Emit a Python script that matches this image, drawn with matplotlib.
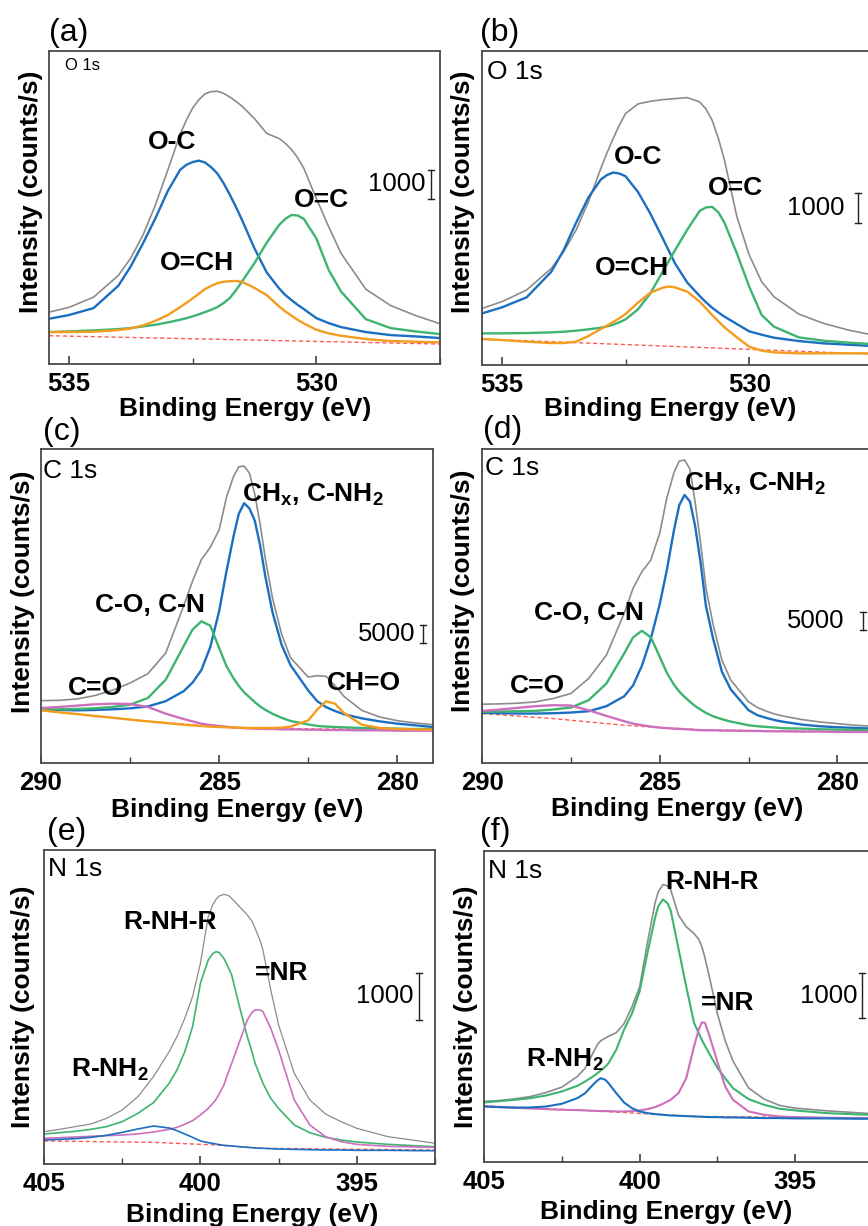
import matplotlib.pyplot as plt
from matplotlib.ticker import MultipleLocator

plt.rcParams['font.family'] = ['Liberation Sans', 'DejaVu Sans']
plt.rcParams['font.weight'] = 'bold'
plt.rcParams['axes.labelweight'] = 'bold'
plt.rcParams['mathtext.fontset'] = 'custom'
plt.rcParams['mathtext.rm'] = 'Liberation Sans'
plt.rcParams['mathtext.bf'] = 'Liberation Sans:bold'

BLUE = '#1b6fc0'
GREEN = '#3db46f'
ORANGE = '#f39c1e'
PURPLE = '#cc6fbd'
GRAY = '#8c8c8c'
RED = '#ff5a4f'

# ---- (a) O 1s ----
be_a = [535.4, 535.0, 534.5, 534.0, 533.75, 533.5, 533.25, 533.0, 532.75, 532.625, 532.5, 532.375, 532.25, 532.125,
        532.0, 531.875, 531.75, 531.625, 531.5, 531.25, 531.0, 530.75, 530.625, 530.5, 530.375, 530.25, 530.0,
        529.75, 529.5, 529.0, 528.5, 528.0, 527.5]
env_a = [1835, 1999, 2364, 3128, 3740, 4563, 5621, 6856, 8126, 8620, 9043, 9340, 9549, 9630,
         9643, 9570, 9443, 9290, 9114, 8679, 8150, 7973, 7800, 7585, 7290, 6915, 5856,
         4857, 3916, 2646, 2070, 1717, 1423]
oc_a = [1599, 1729, 1976, 2764, 3446, 4269, 5151, 6115, 6868, 7040, 7138, 7190, 7127, 6960,
        6738, 6400, 5998, 5560, 5092, 4092, 3234, 2670, 2440, 2258, 2090, 1940, 1623,
        1446, 1305, 1129, 1023, 976, 917]
odc_a = [1129, 1152, 1188, 1235, 1270, 1329, 1388, 1470, 1564, 1620, 1682, 1755, 1835, 1915,
         2011, 2150, 2328, 2600, 2916, 3563, 4292, 4916, 5130, 5268, 5250, 5127, 4445,
         3328, 2564, 1588, 1270, 1152, 1058]
och_a = [1129, 1129, 1141, 1200, 1258, 1364, 1529, 1729, 2011, 2160, 2317, 2480, 2646, 2760,
         2858, 2905, 2928, 2935, 2905, 2693, 2434, 2034, 1860, 1705, 1560, 1435, 1211,
         1082, 1000, 882, 811, 788, 764]
base_be_a = [535.4, 527.5]
base_a = [1000, 706]

# ---- (b) O 1s ----
be_b = [535.4, 535.0, 534.5, 534.0, 533.75, 533.5, 533.25, 533.0, 532.875, 532.75, 532.625, 532.5, 532.25, 532.0,
        531.75, 531.625, 531.5, 531.25, 531.0, 530.875, 530.75, 530.625, 530.5, 530.25, 530.0, 529.75, 529.5,
        529.0, 528.5, 528.0, 527.5]
env_b = [1868, 2088, 2473, 3187, 3737, 4451, 5385, 6484, 7000, 7473, 7920, 8297, 8616, 8704,
         8759, 8775, 8792, 8825, 8682, 8450, 8078, 7480, 6759, 4891, 3627, 2748, 2253,
         1681, 1374, 1154, 989]
oc_b = [1703, 1901, 2231, 3077, 3792, 4693, 5528, 6121, 6270, 6352, 6320, 6231, 5715, 5000,
        4187, 3770, 3352, 2715, 2275, 2070, 1890, 1735, 1594, 1352, 1110, 1000, 901,
        791, 714, 670, 626]
odc_b = [1044, 1044, 1055, 1077, 1099, 1132, 1176, 1231, 1275, 1330, 1410, 1506, 1835, 2363,
         3077, 3430, 3792, 4473, 5088, 5200, 5220, 5040, 4693, 3682, 2583, 1649, 1264,
         912, 802, 736, 692]
och_b = [857, 824, 769, 725, 725, 769, 956, 1187, 1300, 1418, 1545, 1681, 2055, 2385,
         2550, 2590, 2561, 2418, 2088, 1870, 1649, 1445, 1242, 912, 604, 473, 418,
         385, 385, 385, 385]
base_be_b = [535.4, 527.5]
base_b = [857, 360]

# ---- (c) C 1s ----
be_c = [290, 289.5, 289, 288.5, 288, 287.5, 287, 286.5, 286, 285.75, 285.5, 285.25, 285, 284.8, 284.6, 284.45, 284.3,
        284.15, 284.0, 283.85, 283.7, 283.5, 283.25, 283, 282.5, 282.25, 282, 281.75, 281.5, 281, 280.5, 280, 279.5, 279]
env_c = [17634, 17728, 18106, 19049, 20557, 22632, 25272, 31119, 44321, 51394, 57523, 61000, 66000, 75000, 81000, 83800, 84000,
         82000, 76000, 67500, 57500, 46500, 36500, 29800, 24300, 24700, 24518, 21878, 18860, 14899, 13013, 11976, 11316, 10845]
chx_c = [15088, 14994, 14899, 14994, 15182, 15465, 16000, 17500, 20300, 22700, 26300, 32800, 43000, 54000, 64000, 70500, 73500,
         72000, 68500, 61500, 52500, 42500, 33500, 27700, 20500, 17500, 15800, 14700, 13800, 12636, 11788, 11127, 10656, 10184]
con_c = [15088, 15182, 15277, 15465, 15842, 16503, 18389, 23575, 33005, 37720, 40078, 38852, 32500, 27500, 24000, 21800, 20000,
         18600, 17200, 16000, 15000, 13900, 12800, 11900, 10900, 10500, 10300, 10184, 10090, 9902, 9807, 9713, 9619, 9619]
cdo_c = [15560, 15842, 16220, 16597, 16785, 16691, 15842, 13956, 12448, 11788, 11127, 10750, 10467, 10250, 10050, 9950, 9850,
         9780, 9713, 9680, 9640, 9619, 9524, 9524, 9430, 9430, 9336, 9336, 9336, 9241, 9241, 9147, 9147, 9147]
cho_c = [14899, 14334, 13862, 13296, 12825, 12259, 11788, 11316, 10845, 10656, 10467, 10279, 10184, 10100, 10040, 9996, 9950,
         9902, 9902, 9902, 9902, 9902, 9996, 10279, 12070, 15088, 17446, 16785, 14145, 10845, 9902, 9619, 9524, 9430]
base_be_c = [290, 287, 285, 284, 282, 279]
base_c = [14899, 11800, 10200, 9900, 9600, 9430]

# ---- (d) C 1s ----
be_d = be_c
env_d = [16298, 16390, 16575, 16946, 17872, 19261, 23428, 29910, 41485, 48430, 53060, 56301, 63709, 73500, 80500, 83700, 84000,
         81500, 72000, 61000, 48500, 38500, 28500, 22965, 16946, 15372, 14353, 13520, 12964, 12038, 11390, 10927, 10464, 10186]
chx_d = [13890, 13797, 13705, 13705, 13797, 13983, 14353, 15742, 18500, 21500, 27000, 34500, 44000, 53500, 64500, 71500, 74300,
         72500, 65500, 55500, 43500, 34540, 25280, 20372, 14631, 13242, 12501, 11853, 11390, 10649, 10186, 9908, 9723, 9538]
con_d = [14168, 14260, 14353, 14446, 14816, 15372, 17409, 22039, 30373, 34818, 36670, 34818, 29447, 25000, 21700, 19800, 18300,
         17000, 15742, 14800, 13900, 12964, 12131, 11482, 10464, 10186, 10001, 9816, 9630, 9538, 9353, 9260, 9167, 9075]
cdo_d = [14446, 14816, 15279, 15742, 16020, 15927, 14631, 13057, 11575, 10927, 10464, 10093, 9816, 9670, 9520, 9445, 9380,
         9300, 9167, 9100, 9075, 9075, 8982, 8982, 8890, 8890, 8797, 8797, 8797, 8704, 8704, 8612, 8612, 8612]
base_be_d = [290, 288, 286, 284, 282, 279]
base_d = [13705, 12316, 10464, 9260, 8890, 8704]

# ---- (e) N 1s ----
be_e = [405, 404.5, 404, 403.5, 403, 402.5, 402, 401.5, 401, 400.75, 400.5, 400.25, 400, 399.75, 399.6, 399.5, 399.4, 399.25,
        399.1, 399, 398.75, 398.5, 398.35, 398.25, 398.1, 398, 397.75, 397.5, 397, 396.5, 396, 395.5, 395, 394, 393, 392.5]
env_e = [693, 743, 800, 857, 978, 1157, 1442, 1871, 2406, 2727, 3120, 3584, 4298, 5298, 5560, 5669, 5740, 5776,
         5750, 5691, 5512, 5334, 5200, 5048, 4800, 4584, 3727, 2977, 1942, 1371, 1071, 907, 764, 585, 493, 443]
nhr_e = [643, 671, 700, 743, 800, 907, 1085, 1314, 1728, 2013, 2406, 2942, 3870, 4370, 4510, 4548, 4530, 4405,
         4200, 4048, 3370, 2727, 2400, 2156, 1900, 1728, 1407, 1192, 835, 671, 571, 514, 471, 421, 386, 371]
nr_e = [550, 564, 578, 593, 607, 621, 643, 685, 743, 785, 850, 928, 1050, 1192, 1300, 1385, 1500, 1692,
        1980, 2156, 2620, 3084, 3250, 3299, 3300, 3263, 2906, 2442, 1371, 835, 585, 478, 421, 378, 364, 357]
nh2_e = [514, 528, 543, 571, 614, 678, 750, 814, 771, 714, 643, 571, 493, 457, 440, 428, 415, 400,
         392, 386, 371, 357, 350, 343, 339, 336, 328, 321, 314, 307, 300, 300, 293, 293, 286, 286]
base_be_e = [405, 401.5, 399.5, 398, 392.5]
base_e = [493, 464, 407, 336, 300]

# ---- (f) N 1s ----
be_f = [405, 404.5, 404, 403.5, 403, 402.5, 402, 401.75, 401.5, 401.35, 401.25, 401.1, 401, 400.75, 400.5, 400.25, 400,
        399.75, 399.5, 399.4, 399.25, 399.1, 399, 398.75, 398.5, 398.25, 398.1, 398, 397.9, 397.75, 397.5, 397.25, 397,
        396.5, 396, 395.5, 395, 394, 393, 392.5]
env_f = [1349, 1371, 1408, 1460, 1549, 1667, 1904, 2090, 2423, 2620, 2700, 2760, 2800, 2880, 3080, 3450, 3900,
         4880, 5780, 6020, 6180, 6150, 6060, 5500, 5240, 5090, 4960, 4800, 4550, 4100, 3300, 2700, 2250,
         1650, 1400, 1260, 1200, 1141, 1097, 1074]
nhr_f = [1326, 1356, 1386, 1423, 1482, 1571, 1697, 1793, 1904, 1980, 2038, 2125, 2200, 2500, 2950, 3300, 3800,
         4650, 5450, 5700, 5850, 5760, 5600, 4750, 3900, 3100, 2870, 2720, 2590, 2400, 2100, 1867, 1645,
         1400, 1275, 1186, 1149, 1089, 1060, 1052]
nr_f = [1237, 1223, 1208, 1193, 1178, 1163, 1156, 1149, 1141, 1137, 1134, 1134, 1134, 1126, 1126, 1134, 1149,
        1178, 1223, 1250, 1297, 1350, 1386, 1534, 1870, 2580, 2950, 3110, 3100, 2800, 2230, 1682, 1386,
        1126, 1052, 1015, 1000, 986, 978, 978]
nh2_f = [1237, 1223, 1210, 1215, 1237, 1297, 1423, 1534, 1719, 1820, 1867, 1830, 1756, 1534, 1326, 1200, 1126,
         1089, 1067, 1060, 1052, 1042, 1037, 1030, 1023, 1015, 1011, 1008, 1004, 1000, 1000, 993, 993,
         986, 978, 978, 971, 971, 963, 963]
base_be_f = [405, 401.5, 398.25, 392.5]
base_f = [1252, 1141, 1015, 978]

W, H = 868, 1226
fig = plt.figure(figsize=(W / 100, H / 100), dpi=100)


def new_axes(left, top, right, bottom):
    return fig.add_axes([left / W, 1 - bottom / H, (right - left) / W, (bottom - top) / H])


def style(ax, xlim, ylim, ylab_xy, xlab_xy):
    ax.set_xlim(*xlim)
    ax.set_ylim(*ylim)
    ax.xaxis.set_major_locator(MultipleLocator(5))
    ax.xaxis.set_minor_locator(MultipleLocator(2.5))
    ax.set_yticks([])
    ax.tick_params(axis='x', which='both', direction='in', labelsize=18.5, pad=6, color='#404040')
    ax.tick_params(axis='x', which='major', length=6, width=1.2)
    ax.tick_params(axis='x', which='minor', length=4, width=1.0)
    for s in ax.spines.values():
        s.set_color('#4a4a4a')
        s.set_linewidth(1.3)
    ax.set_xlabel('Binding Energy (eV)', fontsize=19, fontweight='bold')
    ax.set_ylabel('Intensity (counts/s)', fontsize=19, fontweight='bold')
    ax.yaxis.set_label_coords(*ylab_xy)
    ax.xaxis.set_label_coords(*xlab_xy)


def scale_bar(ax, xfrac, ymid, length, label, text_x):
    tr = ax.get_yaxis_transform()
    y0, y1 = ymid - length / 2, ymid + length / 2
    ax.plot([xfrac, xfrac], [y0, y1], color='#222222', lw=1.0, transform=tr, clip_on=False)
    for yy in (y0, y1):
        ax.plot([xfrac - 0.008, xfrac + 0.008], [yy, yy], color='#222222', lw=1.0, transform=tr, clip_on=False)
    ax.text(text_x, ymid, label, transform=tr, ha='right', va='center', fontsize=18.5, fontweight='normal')


def note(ax, x, y, s, size=19, weight='bold', ha='center'):
    ax.text(x, y, s, transform=ax.transAxes, ha=ha, va='center', fontsize=size, fontweight=weight)


def tag(ax, x, y, s):
    ax.text(x, y, s, transform=ax.transAxes, ha='left', va='bottom', fontsize=23, fontweight='normal')


dash = dict(ls=(0, (3, 2)), color=RED, lw=1.0)

# (a)
ax = new_axes(49, 51, 440, 364)
ax.plot(base_be_a, base_a, **dash)
ax.plot(be_a, env_a, color=GRAY, lw=1.2)
ax.plot(be_a, oc_a, color=BLUE, lw=1.7)
ax.plot(be_a, odc_a, color=GREEN, lw=1.7)
ax.plot(be_a, och_a, color=ORANGE, lw=1.7)
style(ax, (535.4, 527.5), (0, 11066), (-0.015, 0.551), (0.501, -0.105))
note(ax, 0.315, 0.709, 'O-C')
note(ax, 0.698, 0.524, 'O=C')
note(ax, 0.378, 0.323, 'O=CH')
note(ax, 0.041, 0.955, 'O 1s', size=12, weight='normal', ha='left')
scale_bar(ax, 0.977, 6350, 1000, '1000', 0.962)
tag(ax, 0.0, 1.01, '(a)')

# (b)
ax = new_axes(482, 51, 873, 365)
ax.plot(base_be_b, base_b, **dash)
ax.plot(be_b, env_b, color=GRAY, lw=1.2)
ax.plot(be_b, oc_b, color=BLUE, lw=1.7)
ax.plot(be_b, odc_b, color=GREEN, lw=1.7)
ax.plot(be_b, och_b, color=ORANGE, lw=1.7)
style(ax, (535.4, 527.5), (0, 10364), (-0.018, 0.551), (0.481, -0.102))
note(ax, 0.399, 0.662, 'O-C')
note(ax, 0.647, 0.564, 'O=C')
note(ax, 0.384, 0.309, 'O=CH')
note(ax, 0.013, 0.933, 'O 1s', weight='normal', ha='left')
scale_bar(ax, 0.962, 5193, 1000, '1000', 0.928)
tag(ax, -0.005, 1.01, '(b)')

# (c)
ax = new_axes(41, 449, 433, 763)
ax.plot(base_be_c, base_c, **dash)
ax.plot(be_c, env_c, color=GRAY, lw=1.2)
ax.plot(be_c, chx_c, color=BLUE, lw=1.7)
ax.plot(be_c, con_c, color=GREEN, lw=1.7)
ax.plot(be_c, cdo_c, color=PURPLE, lw=1.7)
ax.plot(be_c, cho_c, color=ORANGE, lw=1.7)
style(ax, (290, 279), (0, 88831), (-0.015, 0.545), (0.5, -0.111))
note(ax, 0.694, 0.854, r'CH$_\mathbf{x}$, C-NH$_\mathbf{2}$')
note(ax, 0.278, 0.503, 'C-O, C-N')
note(ax, 0.138, 0.239, 'C=O')
note(ax, 0.824, 0.255, 'CH=O')
note(ax, 0.005, 0.930, 'C 1s', weight='normal', ha='left')
scale_bar(ax, 0.974, 36494, 5000, '5000', 0.954)
tag(ax, 0.005, 1.006, '(c)')

# (d)
ax = new_axes(482, 449, 873, 763)
ax.plot(base_be_d, base_d, **dash)
ax.plot(be_d, env_d, color=GRAY, lw=1.2)
ax.plot(be_d, chx_d, color=BLUE, lw=1.7)
ax.plot(be_d, con_d, color=GREEN, lw=1.7)
ax.plot(be_d, cdo_d, color=PURPLE, lw=1.7)
style(ax, (290, 279), (0, 87044), (-0.018, 0.550), (0.499, -0.109))
note(ax, 0.698, 0.888, r'CH$_\mathbf{x}$, C-NH$_\mathbf{2}$')
note(ax, 0.274, 0.479, 'C-O, C-N')
note(ax, 0.141, 0.246, 'C=O')
note(ax, 0.008, 0.939, 'C 1s', weight='normal', ha='left')
scale_bar(ax, 0.974, 39448, 5000, '5000', 0.928)
tag(ax, 0.003, 1.013, '(d)')

# (e)
ax = new_axes(44, 850, 435, 1164)
ax.plot(base_be_e, base_e, **dash)
ax.plot(be_e, env_e, color=GRAY, lw=0.9)
ax.plot(be_e, nhr_e, color=GREEN, lw=1.2)
ax.plot(be_e, nr_e, color=PURPLE, lw=1.2)
ax.plot(be_e, nh2_e, color=BLUE, lw=1.2)
style(ax, (405, 392.5), (0, 6726), (-0.023, 0.5), (0.532, -0.124))
note(ax, 0.322, 0.771, 'R-NH-R')
note(ax, 0.609, 0.608, '=NR')
note(ax, 0.169, 0.300, r'R-NH$_\mathbf{2}$')
note(ax, 0.010, 0.939, 'N 1s', weight='normal', ha='left')
scale_bar(ax, 0.959, 3588, 1000, '1000', 0.944)
tag(ax, 0.008, 1.01, '(e)')

# (f)
ax = new_axes(484, 851, 873, 1162)
ax.plot(base_be_f, base_f, **dash)
ax.plot(be_f, env_f, color=GRAY, lw=1.2)
ax.plot(be_f, nhr_f, color=GREEN, lw=1.5)
ax.plot(be_f, nr_f, color=PURPLE, lw=1.5)
ax.plot(be_f, nh2_f, color=BLUE, lw=1.5)
style(ax, (405, 392.5), (0, 6928), (-0.015, 0.498), (0.468, -0.122))
note(ax, 0.586, 0.900, 'R-NH-R')
note(ax, 0.625, 0.511, '=NR')
note(ax, 0.208, 0.328, r'R-NH$_\mathbf{2}$')
note(ax, 0.010, 0.936, 'N 1s', weight='normal', ha='left')
scale_bar(ax, 0.972, 3701, 1000, '1000', 0.959)
tag(ax, -0.01, 1.013, '(f)')

fig.savefig('out.png', dpi=100)
